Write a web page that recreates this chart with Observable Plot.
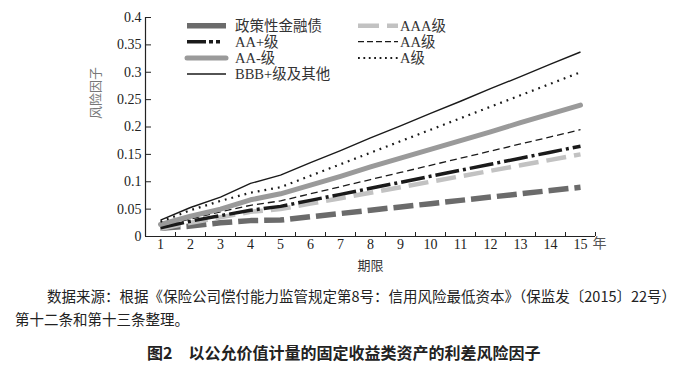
<!DOCTYPE html>
<html><head><meta charset="utf-8">
<script src="https://cdn.jsdelivr.net/npm/d3@7"></script>
<script src="https://cdn.jsdelivr.net/npm/@observablehq/plot@0.6"></script>
<style>
body{margin:0;background:#fff;width:696px;height:369px;overflow:hidden;position:relative;font-family:"Liberation Serif","Noto Sans CJK SC",serif;}
#chart{position:absolute;left:0;top:0;}
#legend{position:absolute;left:0;top:0;}
.cap{position:absolute;white-space:nowrap;font-family:"Noto Sans CJK SC",sans-serif;font-size:14.5px;color:#222;line-height:1;}
</style></head><body>
<div id="chart"></div>
<svg id="legend" width="696" height="100"></svg>
<div class="cap" style="left:47px;top:289px">数据来源：根据《保险公司偿付能力监管规定第8号：信用风险最低资本》（保监发〔2015〕22号）</div>
<div class="cap" style="left:15px;top:312px">第十二条和第十三条整理。</div>
<div class="cap" style="left:147px;top:344px;font-size:16px;font-weight:bold;">图2　以公允价值计量的固定收益类资产的利差风险因子</div>
<script>
// ---- data ----
const years = [1,2,3,4,5,6,7,8,9,10,11,12,13,14,15];
const xTickMarks = [1.5,2.5,3.5,4.5,5.5,6.5,7.5,8.5,9.5,10.5,11.5,12.5,13.5,14.5,15.5];
const yTicks = [0,0.05,0.1,0.15,0.2,0.25,0.3,0.35,0.4];
const seriesNames = ["政策性金融债","AAA级","AA+级","AA级","AA−级","A级","BBB+级及其他"];
const policyBank = [0.015,0.019,0.025,0.029,0.030,0.036,0.042,0.048,0.054,0.060,0.066,0.072,0.078,0.084,0.090];
const ratingAAA  = [0.014,0.025,0.035,0.045,0.050,0.060,0.070,0.080,0.090,0.100,0.110,0.120,0.130,0.140,0.150];
const ratingAAp  = [0.016,0.028,0.038,0.048,0.055,0.066,0.077,0.088,0.099,0.110,0.121,0.132,0.143,0.154,0.165];
const ratingAA   = [0.018,0.032,0.045,0.057,0.065,0.078,0.091,0.104,0.117,0.130,0.143,0.156,0.169,0.182,0.195];
const ratingAAm  = [0.022,0.037,0.050,0.067,0.078,0.094,0.110,0.127,0.143,0.159,0.175,0.191,0.208,0.224,0.240];
const ratingA    = [0.027,0.048,0.065,0.080,0.090,0.111,0.132,0.153,0.174,0.195,0.216,0.237,0.258,0.279,0.300];
const ratingBBB  = [0.030,0.053,0.072,0.097,0.112,0.135,0.157,0.180,0.202,0.225,0.247,0.270,0.292,0.315,0.337];
const seriesValues = [policyBank, ratingAAA, ratingAAp, ratingAA, ratingAAm, ratingA, ratingBBB];

// ---- styles ----
const styles = {
  "政策性金融债": {stroke:"#6b6b6b", width:5.5, dash:"20,6", cap:"butt", legendDash:null, col:0, row:0},
  "AAA级": {stroke:"#c2c2c2", width:4.5, dash:"20,8", cap:"butt", legendDash:"21,8,11,60", col:1, row:0},
  "AA+级": {stroke:"#1a1a1a", width:3.5, dash:"24,4,3,4", cap:"butt", legendDash:"19,3,4,3,4,60", col:0, row:1},
  "AA级": {stroke:"#1a1a1a", width:1.3, dash:"7,4", cap:"butt", legendDash:"6,3", col:1, row:1},
  "AA−级": {stroke:"#9a9a9a", width:5, dash:null, cap:"round", legendDash:null, col:0, row:2},
  "A级": {stroke:"#1a1a1a", width:2.2, dash:"1.8,5", cap:"butt", legendDash:"1.8,3.6", col:1, row:2},
  "BBB+级及其他": {stroke:"#1a1a1a", width:1.4, dash:null, cap:"butt", legendDash:null, col:0, row:3}
};

const rows = seriesNames.flatMap((s,i) => years.map((y,j) => ({series:s, year:y, value:seriesValues[i][j]})));

const lineMarks = seriesNames.map(s => Plot.line(rows.filter(d => d.series === s), {
  x:"year", y:"value", stroke:styles[s].stroke, strokeWidth:styles[s].width,
  strokeDasharray:styles[s].dash, strokeLinecap:styles[s].cap, strokeLinejoin:"round"
}));

const chart = Plot.plot({
  width:696, height:272,
  marginLeft:145, marginRight:101, marginTop:17, marginBottom:36,
  x:{domain:[0.5,15.5]},
  y:{domain:[0,0.4]},
  style:{fontFamily:'"Liberation Serif","Noto Sans CJK SC",serif', fontSize:"14px", color:"#222", background:"transparent"},
  marks:[
    Plot.axisY({ticks:yTicks, tickSize:0, tickPadding:4, label:null, tickFormat:d => String(+d.toFixed(2))}),
    Plot.axisX({ticks:years, tickSize:0, tickPadding:3, label:null, tickFormat:d => String(d)}),
    Plot.tickY(yTicks, {y:d => d, insetRight:444, stroke:"#222"}),
    Plot.tickX(xTickMarks, {x:d => d, insetTop:215, stroke:"#222"}),
    Plot.ruleX([0.5], {stroke:"#222", strokeWidth:1.2}),
    Plot.ruleY([0], {stroke:"#222", strokeWidth:1.2}),
    ...lineMarks,
    Plot.text(["风险因子"], {text:d => d, frameAnchor:"left", dx:-50, dy:-8, rotate:-90, fill:"#777", fontSize:13, fontFamily:"Noto Sans CJK SC"}),
    Plot.text(["期限"], {text:d => d, frameAnchor:"bottom", dy:33, fill:"#333", fontSize:13, fontFamily:"Noto Sans CJK SC"}),
    Plot.text(["年"], {text:d => d, frameAnchor:"bottom-right", dx:11, dy:11, fill:"#555", fontSize:14, fontFamily:"Noto Sans CJK SC"})
  ]
});
document.getElementById("chart").appendChild(chart);

// ---- legend ----
const lg = d3.select("#legend");
const colX = [[187,226,235],[358,398,400]];
const rowY = [25.7,41.7,58,74];
seriesNames.forEach(s => {
  const st = styles[s];
  const [x1,x2,tx] = colX[st.col];
  const y = rowY[st.row];
  lg.append("line").attr("x1",x1).attr("x2",x2).attr("y1",y).attr("y2",y)
    .attr("stroke",st.stroke).attr("stroke-width",st.width)
    .attr("stroke-dasharray",st.legendDash).attr("stroke-linecap",st.cap);
  lg.append("text").attr("x",tx).attr("y",y).attr("dy","0.35em")
    .attr("font-size",14.5).attr("fill","#333")
    .attr("font-family",'"Liberation Serif","Noto Sans CJK SC",serif')
    .text(s.replace("−","-"));
});
</script>
</body></html>
